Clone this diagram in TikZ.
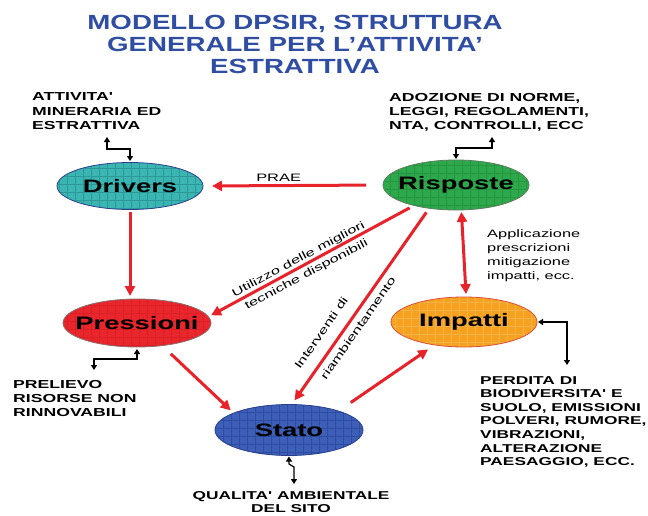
\documentclass[tikz,border=0pt]{standalone}
\usepackage{fontspec}
\setmainfont{Liberation Sans}
\newfontfamily\ttlfont[FakeStretch=1.35]{Liberation Sans}
\newfontfamily\widefont[FakeStretch=1.52]{Liberation Sans}
\usetikzlibrary{shapes.geometric,arrows.meta}
\definecolor{ttlblue}{HTML}{2E4DA3}
\definecolor{arrred}{HTML}{E8222A}
\definecolor{drvfill}{HTML}{3BB5B2}
\definecolor{drvgrid}{HTML}{2C9A98}
\definecolor{drvline}{HTML}{2C3E8F}
\definecolor{rspfill}{HTML}{2DA84C}
\definecolor{rspgrid}{HTML}{25963F}
\definecolor{rspline}{HTML}{5E7D5E}
\definecolor{prsfill}{HTML}{E8262B}
\definecolor{prsgrid}{HTML}{DA1F25}
\definecolor{prsline}{HTML}{8A7070}
\definecolor{impfill}{HTML}{F6A21E}
\definecolor{impgrid}{HTML}{F2B24A}
\definecolor{impline}{HTML}{D9503A}
\definecolor{stofill}{HTML}{3D5FB8}
\definecolor{stogrid}{HTML}{2E4CA0}
\definecolor{stoline}{HTML}{2B3F8F}
\begin{document}
\begin{tikzpicture}[x=1pt,y=-1pt,
  ell/.style n args={3}{ellipse, draw=#1, line width=0.8pt, fill=#2,
    inner xsep=-14pt, inner ysep=0pt, outer sep=0pt,
    font=\widefont\bfseries\fontsize{18}{20}\selectfont,
    path picture={\draw[#3, line width=0.5pt, xstep=8pt, ystep=8pt]
      (path picture bounding box.south west) grid (path picture bounding box.north east);}},
  rarr/.style={draw=arrred, line width=3pt, -{Triangle[length=10pt,width=10pt]}},
  rarrd/.style={draw=arrred, line width=3pt, {Triangle[length=10pt,width=10pt]}-{Triangle[length=10pt,width=10pt]}},
  blk/.style={draw=black, line width=1.2pt, {Triangle[length=5pt,width=6pt]}-{Triangle[length=5pt,width=6pt]}},
  note/.style={anchor=north west, align=left, inner sep=0pt, font=\widefont\bfseries\fontsize{11.6}{14.2}\selectfont},
  lbl/.style={inner sep=0pt, font=\widefont\fontsize{10.8}{15}\selectfont},
  ttl/.style={anchor=north, align=center, inner sep=0pt, text=ttlblue, font=\ttlfont\bfseries\fontsize{20.5}{22}\selectfont}
]
\fill[white] (0,0) rectangle (648,515);
\useasboundingbox (0,0) rectangle (648,515);

% title
\node[ttl] (title) at (295,15) {MODELLO DPSIR, STRUTTURA\\GENERALE PER L’ATTIVITA’\\ESTRATTIVA};

% ellipses
\node[ell={drvline}{drvfill}{drvgrid}, minimum width=146pt, minimum height=47pt] (drv) at (130,186) {Drivers};
\node[ell={rspline}{rspfill}{rspgrid}, minimum width=146pt, minimum height=50pt] (rsp) at (456,185) {Risposte};
\node[ell={prsline}{prsfill}{prsgrid}, minimum width=148pt, minimum height=48pt] (prs) at (137,323) {Pressioni};
\node[ell={impline}{impfill}{impgrid}, minimum width=146pt, minimum height=50pt] (imp) at (464,322) {Impatti};
\node[ell={stoline}{stofill}{stogrid}, minimum width=148pt, minimum height=51pt] (sto) at (289,430) {Stato};

% notes
\node[note] (drvnote) at (32,92.7) {ATTIVITA'\\MINERARIA ED\\ESTRATTIVA};
\node[note] (rspnote) at (389,92.7) {ADOZIONE DI NORME,\\LEGGI, REGOLAMENTI,\\NTA, CONTROLLI, ECC};
\node[note, font=\widefont\bfseries\fontsize{11.6}{14}\selectfont] (prsnote) at (13,380) {PRELIEVO\\RISORSE NON\\RINNOVABILI};
\node[note, font=\widefont\bfseries\fontsize{11.4}{13.6}\selectfont] (impnote) at (480,376) {PERDITA DI\\BIODIVERSITA'  E\\SUOLO, EMISSIONI\\POLVERI, RUMORE,\\VIBRAZIONI,\\ALTERAZIONE\\PAESAGGIO, ECC.};
\node[note, anchor=north, align=center, font=\widefont\bfseries\fontsize{11.4}{12.5}\selectfont] (stonote) at (291,491.5) {QUALITA' AMBIENTALE\\DEL SITO};

% labels
\node[lbl, anchor=north west, align=left, font=\widefont\fontsize{10.8}{14.2}\selectfont] (applab) at (487,229.3) {Applicazione\\prescrizioni\\mitigazione\\impatti, ecc.};
\node[lbl, align=center, rotate=28, font=\widefont\fontsize{10.8}{17}\selectfont] (utilab) at (302.6,267.3) {Utilizzo delle migliori\\tecniche disponibili};
\node[lbl, rotate=55] (intlab) at (321,333) {Interventi di};
\node[lbl, rotate=55] (rialab) at (358,328) {riambientamento};

% red arrows
\draw[rarr, shorten <=17pt, shorten >=9pt] (rsp.west) -- node[lbl, pos=0.58, above=3pt] (praelab) {PRAE} (drv.east);
\draw[rarr, shorten <=2pt, shorten >=3pt] (drv.south) -- (drv.south |- prs.north);
\draw[rarr, shorten <=5pt, shorten >=3pt] (rsp.206) -- (prs.5);
\draw[rarr, shorten <=5pt, shorten >=5pt] (rsp.221) -- (sto.84);
\draw[rarr, shorten <=12pt, shorten >=4pt] (prs.318) -- (sto.163);
\draw[rarr, shorten <=15pt, shorten >=8pt] (sto.21) -- (imp.218);
\draw[rarrd, shorten <=2pt, shorten >=3pt] (rsp.282) -- (imp.85);

% black connectors
\coordinate (dA) at (107,137);
\draw[blk, shorten >=1.5pt] (dA) -- ++(0,12) -| (drv.north);
\coordinate (rA) at (492,137);
\draw[blk, shorten >=1pt] (rA) -- ++(0,11) -| (rsp.north);
\coordinate (pA) at (94,370);
\draw[blk, shorten >=2pt] (pA) -- ++(0,-11) -| (prs.south);
\coordinate (iA) at (567,365);
\draw[blk, shorten >=1pt] (iA) |- (imp.east);
\coordinate (sA) at (294,484);
\draw[blk, shorten >=1pt] (sA) -- ++(0,-17) -- ++(-5,-3) -- (sto.south);
\end{tikzpicture}
\end{document}
